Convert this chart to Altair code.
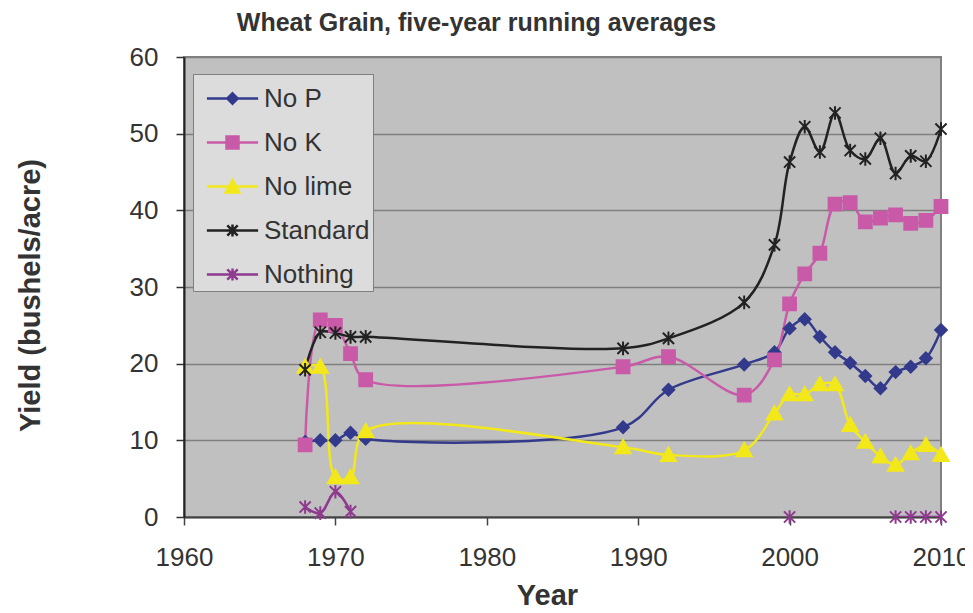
import altair as alt
import pandas as pd

# ---- data ----
years = [1968, 1969, 1970, 1971, 1972, 1989, 1992, 1997, 1999, 2000,
         2001, 2002, 2003, 2004, 2005, 2006, 2007, 2008, 2009, 2010]
no_p = [9.8, 10.0, 10.0, 11.0, 10.2, 11.7, 16.6, 19.9, 21.5, 24.6,
        25.8, 23.5, 21.5, 20.1, 18.4, 16.8, 18.9, 19.6, 20.7, 24.4]
no_k = [9.4, 25.7, 25.0, 21.3, 17.9, 19.6, 20.9, 15.9, 20.5, 27.8,
        31.7, 34.4, 40.8, 41.0, 38.5, 39.0, 39.4, 38.3, 38.7, 40.5]
no_lime = [19.6, 19.6, 5.2, 5.2, 11.2, 9.1, 8.1, 8.7, 13.5, 16.0,
           16.0, 17.3, 17.3, 12.0, 9.8, 7.9, 6.8, 8.3, 9.4, 8.1]
standard = [19.2, 24.1, 24.0, 23.5, 23.5, 22.0, 23.3, 28.0, 35.5, 46.3,
            50.9, 47.6, 52.7, 47.8, 46.7, 49.4, 44.8, 47.1, 46.4, 50.6]
nothing_years = [1968, 1969, 1970, 1971, 2000, 2007, 2008, 2009, 2010]
nothing_vals = [1.3, 0.5, 3.3, 0.7, 0.0, 0.0, 0.0, 0.0, 0.0]
nothing_segment = [1, 1, 1, 1, 2, 3, 3, 3, 3]

series_names = ["No P", "No K", "No lime", "Standard", "Nothing"]
series_colors = ["#333A8C", "#C85AA8", "#F2E81A", "#222222", "#8E3A8E"]

# marker shapes on the chart (unit = 20 px at size 1600)
marker_paths = [
    "M0,-0.29L0.29,0L0,0.29L-0.29,0Z",
    "M-0.32,-0.32H0.32V0.32H-0.32Z",
    "M0,-0.36L0.38,0.3L-0.38,0.3Z",
    "M0,-0.34V0.34M-0.28,-0.28L0.28,0.28M-0.28,0.28L0.28,-0.28",
    "M0,-0.34V0.34M-0.28,-0.28L0.28,0.28M-0.28,0.28L0.28,-0.28",
]
# legend symbols: a line segment with the marker on it
LINE = "M-1.28,0H1.28"
legend_paths = [
    LINE + "M0,-0.26L0.26,0L0,0.26L-0.26,0Z",
    LINE + "M-0.3,-0.3H0.3V0.3H-0.3Z",
    LINE + "M0,-0.32L0.34,0.3L-0.34,0.3Z",
    LINE + "M0,-0.3V0.3M-0.26,-0.26L0.26,0.26M-0.26,0.26L0.26,-0.26",
    LINE + "M0,-0.3V0.3M-0.26,-0.26L0.26,0.26M-0.26,0.26L0.26,-0.26",
]

rows = []
for name, vals in zip(series_names[:4], [no_p, no_k, no_lime, standard]):
    for yr, v in zip(years, vals):
        rows.append({"year": yr, "yield": v, "series": name, "segment": name})
for yr, v, s in zip(nothing_years, nothing_vals, nothing_segment):
    rows.append({"year": yr, "yield": v, "series": "Nothing", "segment": f"Nothing{s}"})
df = pd.DataFrame(rows)

FONT = "Liberation Sans"
TXT = "#333333"

x_enc = alt.X(
    "year:Q",
    scale=alt.Scale(domain=[1960, 2010], nice=False, zero=False),
    axis=alt.Axis(
        values=[1960, 1970, 1980, 1990, 2000, 2010], format="d", grid=False,
        tickSize=8, tickColor="#444444", tickWidth=1.5,
        domainColor="#444444", domainWidth=2,
        labelFontSize=26, labelColor=TXT, labelPadding=19, labelFlush=False,
        labelOverlap=False,
        title="Year", titleFontSize=29, titleFontWeight="bold", titleColor=TXT,
        titleX=363, titleY=87, titleBaseline="alphabetic", titleAlign="center",
    ),
)
y_enc = alt.Y(
    "yield:Q",
    scale=alt.Scale(domain=[0, 60], nice=False),
    axis=alt.Axis(
        values=[0, 10, 20, 30, 40, 50, 60], grid=True, gridColor="#7F7F7F",
        gridWidth=1.5, tickSize=8, tickColor="#333333", tickWidth=1.5,
        domainColor="#222222", domainWidth=2,
        labelFontSize=26, labelColor=TXT, labelPadding=18, labelFlush=False,
        title="Yield (bushels/acre)", titleFontSize=29, titleFontWeight="bold",
        titleColor=TXT, titleX=-154, titleY=238, titleAngle=-90,
        titleBaseline="middle", titleAlign="center",
    ),
)

legend = alt.Legend(
    title=None, orient="none", legendX=9, legendY=17,
    symbolSize=1600, symbolStrokeWidth=2.5,
    labelFontSize=26, labelFont=FONT, labelColor=TXT,
    padding=3, rowPadding=9, symbolOffset=15, labelOffset=10,
    fillColor="#DCDCDC", strokeColor="#7F7F7F",
)

color_scale = alt.Scale(domain=series_names, range=series_colors)

lines = alt.Chart(df).mark_line(
    interpolate="catmull-rom", strokeWidth=2.5, clip=True
).encode(
    x=x_enc, y=y_enc,
    color=alt.Color("series:N", scale=color_scale, legend=None),
    detail="segment:N",
    order="year:Q",
)

points = alt.Chart(df).mark_point(
    filled=True, size=1600, opacity=1, strokeWidth=2
).encode(
    x=x_enc, y=y_enc,
    fill=alt.Fill("series:N", scale=color_scale, legend=None),
    stroke=alt.Stroke("series:N", scale=color_scale, legend=None),
    shape=alt.Shape("series:N",
                    scale=alt.Scale(domain=series_names, range=marker_paths),
                    legend=None),
)

# legend-only layer: no rows reach the plot, the legend comes from its scales
legend_layer = alt.Chart(df).transform_filter("datum.year < 0").mark_point(
    filled=True, size=1600, opacity=1, strokeWidth=2.5
).encode(
    x=x_enc, y=y_enc,
    fill=alt.Fill("series:N", scale=color_scale, legend=legend),
    stroke=alt.Stroke("series:N", scale=color_scale, legend=legend),
    shape=alt.Shape("series:N",
                    scale=alt.Scale(domain=series_names, range=legend_paths),
                    legend=legend),
)

chart = alt.layer(lines, points, legend_layer).resolve_scale(
    fill="independent", stroke="independent", shape="independent"
).properties(
    width=757, height=460,
    autosize=alt.AutoSizeParams(type="none"),
    padding={"left": 176, "top": 49, "right": 24, "bottom": 88},
    title=alt.Title("Wheat Grain, five-year running averages", fontSize=25,
                    font=FONT, fontWeight="bold", color=TXT,
                    anchor="middle", dx=-86, offset=8),
).configure(font=FONT).configure_view(
    fill="#C0C0C0", stroke="#808080", strokeWidth=2
)

chart.save("out.html", embed_options={"renderer": "svg", "actions": False})
